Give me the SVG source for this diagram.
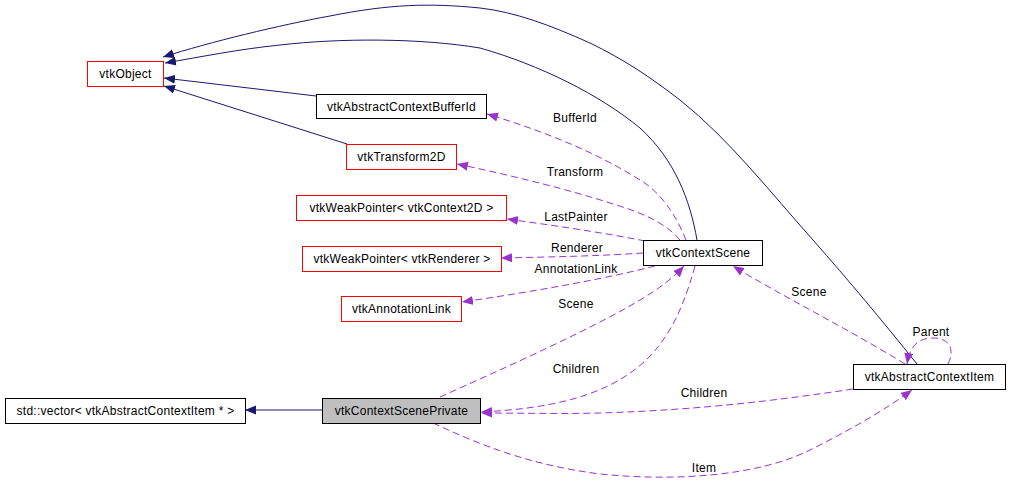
<svg xmlns="http://www.w3.org/2000/svg" width="1011" height="488" viewBox="0 0 1011 488">
<style>
.n rect{fill:#fff;stroke:#000;stroke-width:1}
.n.r rect{stroke:#ff0000}
.n.g rect{fill:#bfbfbf}
text{font-family:"Liberation Sans",Arial,sans-serif;font-size:12px;letter-spacing:0.25px;fill:#000}
.n text{text-anchor:middle}
.l{text-anchor:middle}
.inh{fill:none;stroke:#191970;stroke-width:1;marker-end:url(#ab)}
.use{fill:none;stroke:#9a32cd;stroke-width:1;stroke-dasharray:7,4;marker-end:url(#ap)}
</style>
<defs>
<marker id="ab" markerWidth="12" markerHeight="10" refX="11" refY="4.5" orient="auto" markerUnits="userSpaceOnUse"><path d="M0,0 L11,4.5 L0,9 z" fill="#191970"/></marker>
<marker id="ap" markerWidth="12" markerHeight="10" refX="11" refY="4.5" orient="auto" markerUnits="userSpaceOnUse"><path d="M0,0 L11,4.5 L0,9 z" fill="#9a32cd"/></marker>
</defs>
<rect width="1011" height="488" fill="#fff"/>
<g id="edges">
<path class="inh" d="M917,364 C880,318 850,282 813,240 C770,192 730,140 680,100 C650,77 625,60 590,43 C550,25 515,12 480,8 C430,3 390,4 330,16 C280,25 210,42 163,57"/>
<path class="inh" d="M697,240 C690,200 675,160 640,128 C600,95 540,65 480,48 C420,38 340,38 280,45 C240,49 200,57 165,63"/>
<path class="inh" d="M316,96 L164,78"/>
<path class="inh" d="M347,144 L164,86"/>
<path class="inh" d="M322,410 L245,410"/>
<path class="use" d="M686,240 C676,215 660,190 635,177 C600,155 550,133 487,114"/>
<path class="use" d="M680,240 C665,222 640,212 610,203 C570,190 510,175 457,164"/>
<path class="use" d="M645,241 C600,232 550,225 507,219"/>
<path class="use" d="M643,253 C600,256 550,257 501,258"/>
<path class="use" d="M655,266 C600,280 530,292 462,302"/>
<path class="use" d="M440,397 C500,370 590,330 640,300 C660,288 673,278 684,266"/>
<path class="use" d="M695,266 C680,320 660,360 610,385 C570,405 520,410 481,412"/>
<path class="use" d="M853,389 C780,400 700,410 600,413 C560,414 520,413 481,413"/>
<path class="use" d="M905,364 C850,330 780,295 733,266"/>
<path class="use" d="M948,364 C955,350 950,338 933,338 C918,338 910,346 907,364"/>
<path class="use" d="M433,423 C480,445 530,465 600,474 C680,482 760,475 810,450 C850,430 885,410 912,390"/>
<text class="l" x="575" y="122">BufferId</text>
<text class="l" x="575" y="176">Transform</text>
<text class="l" x="576" y="221">LastPainter</text>
<text class="l" x="577" y="252">Renderer</text>
<text class="l" x="576" y="273">AnnotationLink</text>
<text class="l" x="576" y="308">Scene</text>
<text class="l" x="576" y="373">Children</text>
<text class="l" x="704" y="397">Children</text>
<text class="l" x="809" y="296">Scene</text>
<text class="l" x="931" y="336">Parent</text>
<text class="l" x="704" y="472">Item</text>
</g>
<g id="vtkObject" class="n r"><rect x="87.5" y="61.5" width="76" height="25"/><text x="125.5" y="78">vtkObject</text></g>
<g id="vtkAbstractContextBufferId" class="n"><rect x="316.5" y="94.5" width="170" height="24"/><text x="401.5" y="111">vtkAbstractContextBufferId</text></g>
<g id="vtkTransform2D" class="n r"><rect x="346.5" y="144.5" width="110" height="25"/><text x="401.5" y="161">vtkTransform2D</text></g>
<g id="vtkWeakPointerContext2D" class="n r"><rect x="296.5" y="195.5" width="210" height="25"/><text x="401.5" y="212">vtkWeakPointer&lt; vtkContext2D &gt;</text></g>
<g id="vtkWeakPointerRenderer" class="n r"><rect x="302.5" y="246.5" width="199" height="25"/><text x="402" y="263">vtkWeakPointer&lt; vtkRenderer &gt;</text></g>
<g id="vtkAnnotationLink" class="n r"><rect x="341.5" y="296.5" width="120" height="25"/><text x="401.5" y="313">vtkAnnotationLink</text></g>
<g id="vtkContextScene" class="n"><rect x="643.5" y="240.5" width="119" height="25"/><text x="703" y="257">vtkContextScene</text></g>
<g id="stdvector" class="n"><rect x="5.5" y="398.5" width="240" height="25"/><text x="125.5" y="415">std::vector&lt; vtkAbstractContextItem * &gt;</text></g>
<g id="vtkContextScenePrivate" class="n g"><rect x="322.5" y="398.5" width="158" height="25"/><text x="401.5" y="415">vtkContextScenePrivate</text></g>
<g id="vtkAbstractContextItem" class="n"><rect x="853.5" y="364.5" width="152" height="25"/><text x="929.5" y="381">vtkAbstractContextItem</text></g>
</svg>
